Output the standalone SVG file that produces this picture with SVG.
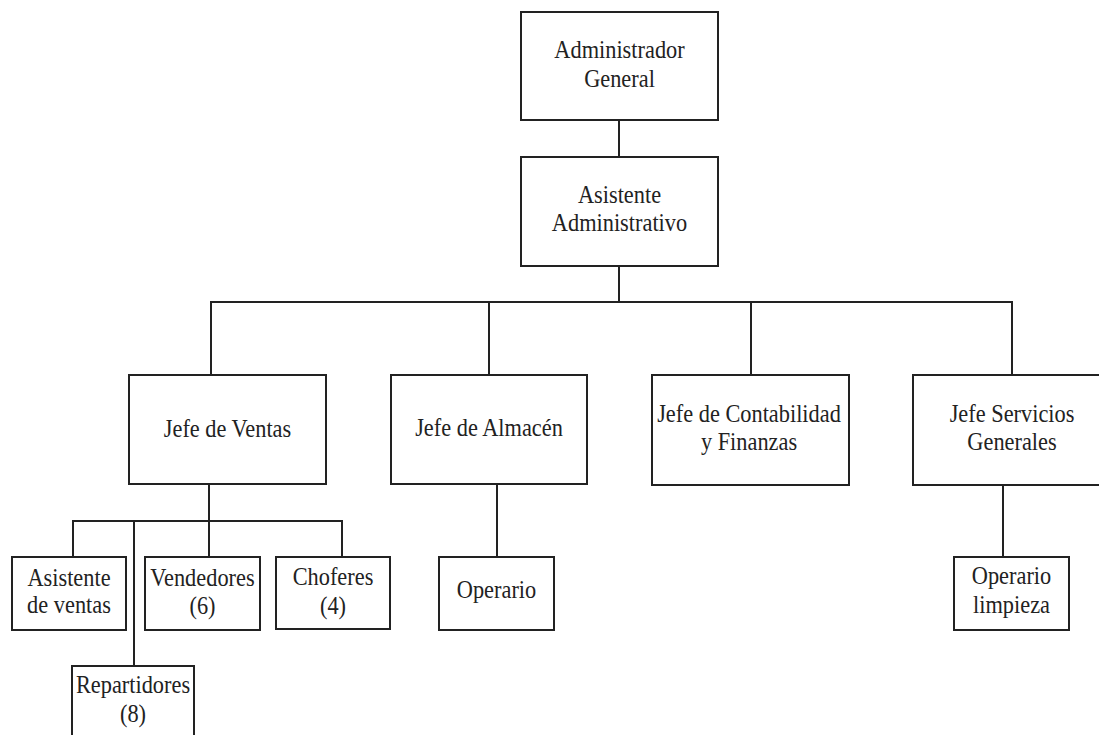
<svg xmlns="http://www.w3.org/2000/svg" width="1099" height="735" viewBox="0 0 1099 735">
  <style>
    .box { fill: #ffffff; stroke: #222222; stroke-width: 2; }
    .wire { fill: none; stroke: #222222; stroke-width: 2; }
    .lbl { font-family: 'Liberation Serif', 'Times New Roman', Times, serif; font-size: 26px; fill: #222222; text-anchor: middle; }
  </style>
  <rect width="1099" height="735" fill="#ffffff"/>

  <!-- connectors -->
  <g id="connectors">
    <path class="wire" d="M619,120 V157"/>
    <path class="wire" d="M619,266 V302"/>
    <path class="wire" d="M211,375 V302 H1012 V375"/>
    <path class="wire" d="M489,302 V375"/>
    <path class="wire" d="M751,302 V375"/>
    <path class="wire" d="M209,484 V557"/>
    <path class="wire" d="M73,557 V521 H342 V557"/>
    <path class="wire" d="M134,521 V666"/>
    <path class="wire" d="M497,484 V557"/>
    <path class="wire" d="M1003,485 V557"/>
  </g>

  <g id="n-admin-general">
    <rect class="box" x="521" y="12" width="197" height="108"/>
    <text class="lbl" transform="translate(619.5,58) scale(0.86,1)">Administrador</text>
    <text class="lbl" transform="translate(619.5,87) scale(0.86,1)">General</text>
  </g>

  <g id="n-asistente-admin">
    <rect class="box" x="521" y="157" width="197" height="109"/>
    <text class="lbl" transform="translate(619.5,203) scale(0.86,1)">Asistente</text>
    <text class="lbl" transform="translate(619.5,231) scale(0.86,1)">Administrativo</text>
  </g>

  <g id="n-jefe-ventas">
    <rect class="box" x="129" y="375" width="197" height="109"/>
    <text class="lbl" transform="translate(227.5,437) scale(0.86,1)">Jefe de Ventas</text>
  </g>

  <g id="n-jefe-almacen">
    <rect class="box" x="391" y="375" width="196" height="109"/>
    <text class="lbl" transform="translate(489,436) scale(0.86,1)">Jefe de Almacén</text>
  </g>

  <g id="n-jefe-contabilidad">
    <rect class="box" x="652" y="375" width="197" height="110"/>
    <text class="lbl" transform="translate(749,422) scale(0.86,1)">Jefe de Contabilidad</text>
    <text class="lbl" transform="translate(749,450) scale(0.86,1)">y Finanzas</text>
  </g>

  <g id="n-jefe-servicios">
    <rect class="box" x="913" y="375" width="197" height="110"/>
    <text class="lbl" transform="translate(1012,422) scale(0.86,1)">Jefe Servicios</text>
    <text class="lbl" transform="translate(1012,450) scale(0.86,1)">Generales</text>
  </g>

  <g id="n-asistente-ventas">
    <rect class="box" x="12" y="557" width="114" height="73"/>
    <text class="lbl" transform="translate(69,586) scale(0.86,1)">Asistente</text>
    <text class="lbl" transform="translate(69,613) scale(0.86,1)">de ventas</text>
  </g>

  <g id="n-vendedores">
    <rect class="box" x="145" y="557" width="115" height="73"/>
    <text class="lbl" transform="translate(202.5,586) scale(0.86,1)">Vendedores</text>
    <text class="lbl" transform="translate(202.5,614) scale(0.86,1)">(6)</text>
  </g>

  <g id="n-choferes">
    <rect class="box" x="276" y="557" width="114" height="72"/>
    <text class="lbl" transform="translate(333,585) scale(0.86,1)">Choferes</text>
    <text class="lbl" transform="translate(333,614) scale(0.86,1)">(4)</text>
  </g>

  <g id="n-repartidores">
    <rect class="box" x="72" y="666" width="122" height="80"/>
    <text class="lbl" transform="translate(133,693) scale(0.86,1)">Repartidores</text>
    <text class="lbl" transform="translate(133,722) scale(0.86,1)">(8)</text>
  </g>

  <g id="n-operario">
    <rect class="box" x="439" y="557" width="115" height="73"/>
    <text class="lbl" transform="translate(496.5,598) scale(0.86,1)">Operario</text>
  </g>

  <g id="n-operario-limpieza">
    <rect class="box" x="954" y="557" width="115" height="73"/>
    <text class="lbl" transform="translate(1011.5,584) scale(0.86,1)">Operario</text>
    <text class="lbl" transform="translate(1011.5,613) scale(0.86,1)">limpieza</text>
  </g>
</svg>
